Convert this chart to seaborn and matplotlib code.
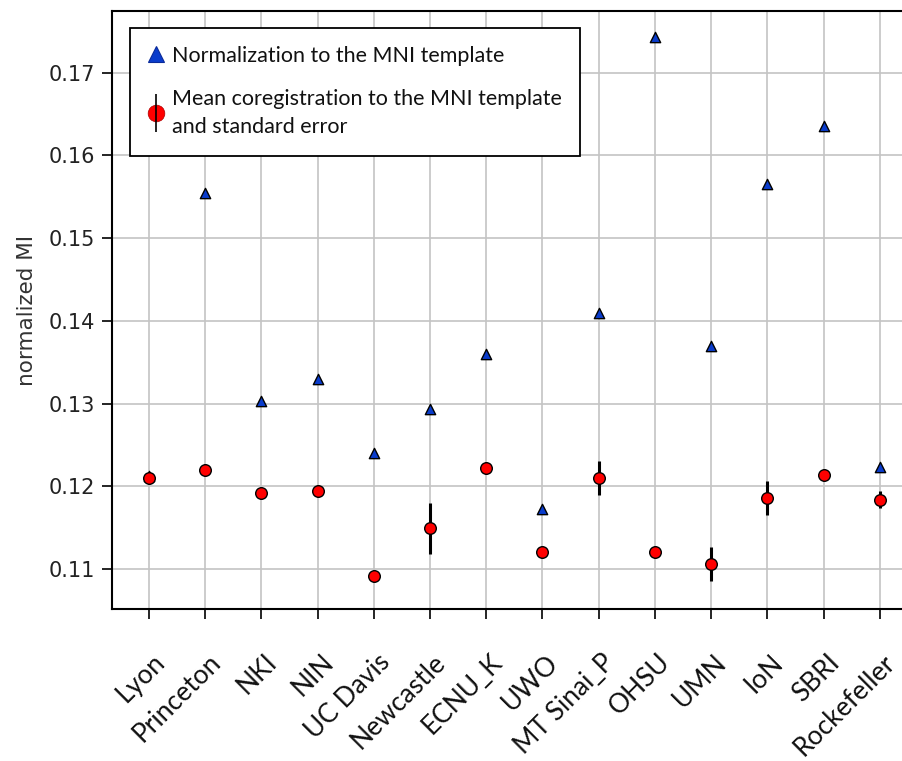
import matplotlib
matplotlib.use("Agg")
import matplotlib.pyplot as plt
from matplotlib.lines import Line2D
from matplotlib.legend_handler import HandlerTuple
from matplotlib.transforms import ScaledTranslation
import seaborn as sns
import pandas as pd

sites = ['Lyon', 'Princeton', 'NKI', 'NIN', 'UC Davis', 'Newcastle', 'ECNU_K',
         'UWO', 'MT Sinai_P', 'OHSU', 'UMN', 'IoN', 'SBRI', 'Rockefeller']
norm_mi = [0.1213, 0.1554, 0.1303, 0.1330, 0.1240, 0.1293, 0.1360,
           0.1173, 0.1409, 0.1743, 0.1370, 0.1566, 0.1636, 0.1223]
coreg_mean = [0.1210, 0.1220, 0.1192, 0.1194, 0.1092, 0.1149, 0.1222,
              0.1120, 0.1210, 0.1121, 0.1106, 0.1186, 0.1214, 0.1184]
coreg_sem = [0.0004, 0.0003, 0.0003, 0.0003, 0.0003, 0.0031, 0.0003,
             0.0003, 0.0020, 0.0003, 0.0021, 0.0021, 0.0004, 0.0010]
yticks = [0.11, 0.12, 0.13, 0.14, 0.15, 0.16, 0.17]

label_norm = "Normalization to the MNI template"
label_coreg = "Mean coregistration to the MNI template\nand standard error"

df = pd.DataFrame({"site": sites, "norm": norm_mi, "coreg": coreg_mean, "sem": coreg_sem})

sns.set_theme(style="ticks")
plt.rcParams['font.family'] = ['DejaVu Sans']
plt.rcParams['font.sans-serif'] = ['DejaVu Sans']

fig = plt.figure(figsize=(9.03, 7.61), dpi=100)
ax = fig.add_axes([112/903, (761-609.3)/761, 804.7/903, 598.3/761])

BLUE = "#0a3ccc"
RED = "#ff0000"

sns.scatterplot(data=df, x="site", y="norm", marker="^", s=55, color=BLUE,
                edgecolor="black", linewidth=1.0, ax=ax, zorder=3, legend=False)
ax.errorbar(range(len(sites)), df["coreg"], yerr=df["sem"], fmt="none",
            ecolor="black", elinewidth=2.2, capsize=0, zorder=4)
sns.scatterplot(data=df, x="site", y="coreg", marker="o", s=70, color=RED,
                edgecolor="black", linewidth=1.0, ax=ax, zorder=5, legend=False)

ax.set_xlim(-0.658, 13.658)
ax.set_ylim(0.10513, 0.17746)
ax.set_yticks(yticks)
ax.set_yticklabels([f"{v:.2f}" for v in yticks], fontsize=15, color="#222222",
                   family=["DejaVu Sans"])
ax.set_xticks(range(len(sites)))
ax.set_xticklabels(sites, rotation=45, ha="right", va="top", rotation_mode="anchor",
                   fontsize=19, family=["Lato", "DejaVu Sans"],
                   color="#111111")
ax.tick_params(axis="both", length=7, width=1.2, color="black")
ax.tick_params(axis="y", pad=5)
ax.tick_params(axis="x", pad=22)
off = ScaledTranslation(3/100, 0, fig.dpi_scale_trans)
for lab in ax.get_xticklabels():
    lab.set_transform(lab.get_transform() + off)

ax.set_xlabel("")
ax.set_ylabel("normalized MI", fontsize=15.5, color="#333333",
              family=["DejaVu Sans"])
ax.yaxis.set_label_coords(-0.093, 0.5)

ax.grid(True, color="#c4c4c4", linewidth=1.2)
ax.set_axisbelow(True)
for sp in ax.spines.values():
    sp.set_color("black")
    sp.set_linewidth(1.5)

h_tri = Line2D([], [], marker="^", linestyle="none", markersize=11,
               markerfacecolor=BLUE, markeredgecolor="#0a2a99", markeredgewidth=0.8)
h_bar = Line2D([], [], marker="|", linestyle="none", markersize=27,
               color="black", markeredgewidth=1.2)
h_dot = Line2D([], [], marker="o", linestyle="none", markersize=12,
               markerfacecolor=RED, markeredgecolor="#aa0000", markeredgewidth=0.5)
leg = ax.legend([h_tri, (h_dot, h_bar)], [label_norm, label_coreg],
                handler_map={tuple: HandlerTuple(ndivide=1)},
                loc="upper left", bbox_to_anchor=(18/804.7, (609.3-27.7)/598.3),
                borderaxespad=0, fancybox=False, framealpha=1, edgecolor="black",
                prop={"family": ["Lato", "DejaVu Sans"], "size": 15.5},
                handlelength=0.7, handletextpad=0.4, labelspacing=1.05,
                borderpad=0.85)
leg.get_frame().set_linewidth(1.3)
for t in leg.get_texts():
    t.set_color("#111111")
    t.set_linespacing(1.55)

fig.savefig("out.png", dpi=100)
